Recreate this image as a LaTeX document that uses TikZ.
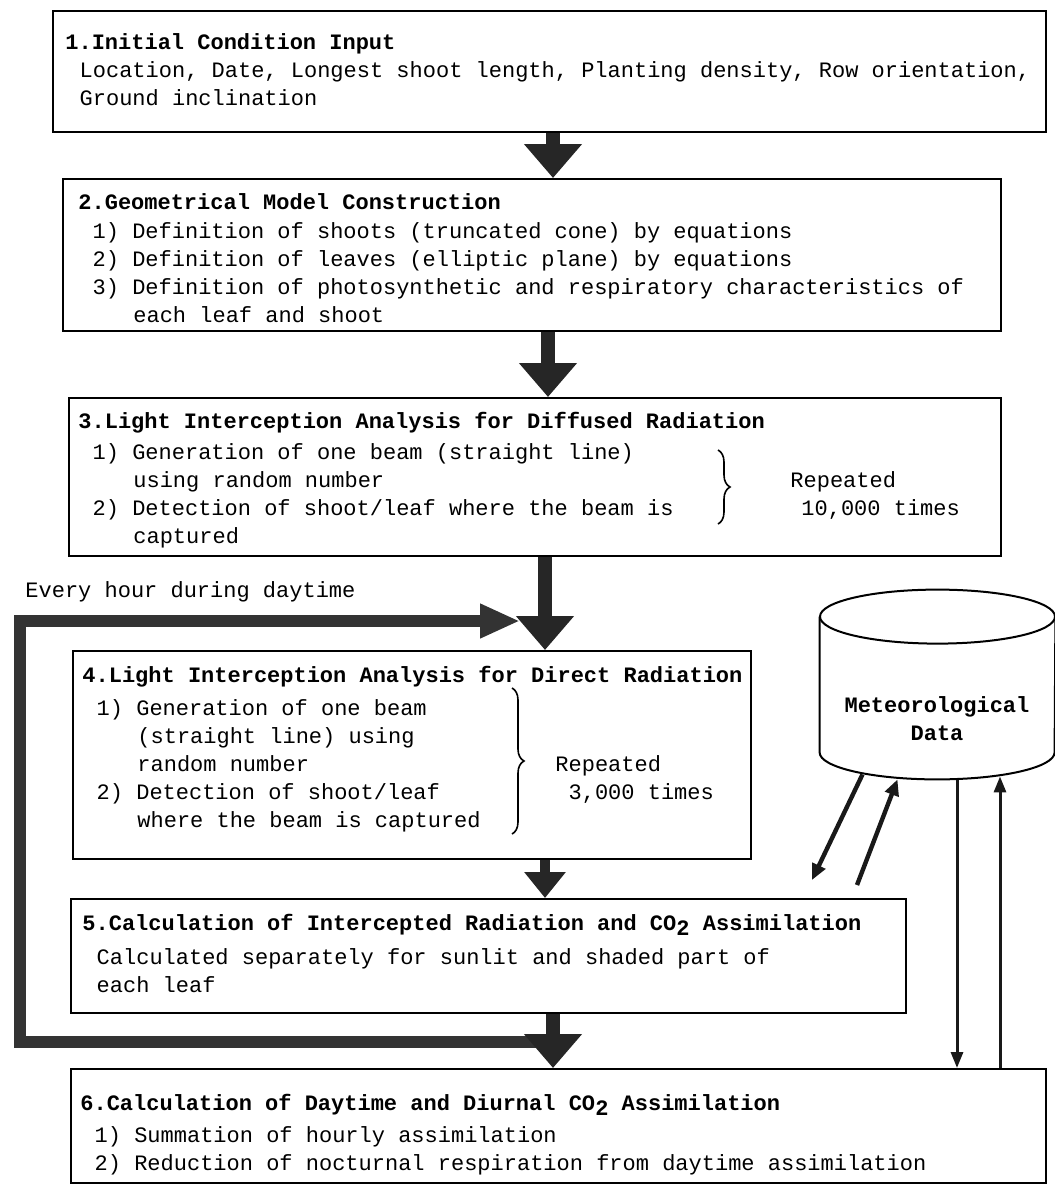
\documentclass[tikz,border=0pt]{standalone}
\usepackage{fontspec}
\setmainfont{Liberation Mono}
\setmonofont{Liberation Mono}
\usepackage{tikz}
\usetikzlibrary{arrows.meta,calc,positioning,shapes.geometric,decorations.pathreplacing}

\newcommand{\ti}{\hspace*{0.65em}}
\newcommand{\hang}{\hspace*{2.5em}}
\newcommand{\subtwo}{\raisebox{-0.45ex}{2}}

\tikzset{
  stagebox/.style={draw, line width=1pt, inner sep=0pt, anchor=north west},
  stagetext/.style={anchor=north west, inner sep=0pt, align=left},
  bigflow/.style={draw=black!85, line width=7pt, -{Triangle[width=28pt,length=17pt]}},
  smallflow/.style={draw=black!85, line width=5pt, -{Triangle[width=20pt,length=13pt]}},
  loopline/.style={draw=black!80, line width=6pt, -{Triangle[width=16pt,length=20pt]}},
  dataflow/.style={draw=black!90, line width=2.2pt, -{Triangle[width=7pt,length=8pt]}},
  dataline/.style={draw=black!90, line width=1.5pt, -{Triangle[width=6pt,length=8pt]}},
  dbline/.style={draw, line width=1pt},
  repbrace/.style={decorate, decoration={brace, amplitude=6pt}, line width=0.8pt}
}

\begin{document}
\begin{tikzpicture}[x=0.5pt, y=-0.5pt, font=\fontsize{11}{14}\selectfont]
  \useasboundingbox (0,0) rectangle (1055,1185);

  % stage boxes
  \node[stagebox, minimum width=496.5pt, minimum height=60.5pt] (b1) at (52,10) {};
  \node[stagebox, minimum width=469pt, minimum height=76pt] (b2) at (62,178) {};
  \node[stagebox, minimum width=466pt, minimum height=79pt] (b3) at (68,397) {};
  \node[stagebox, minimum width=339pt, minimum height=104pt] (b4) at (72,650) {};
  \node[stagebox, minimum width=417.5pt, minimum height=57pt] (b5) at (70,898) {};
  \node[stagebox, minimum width=487.5pt, minimum height=57pt] (b6) at (70,1068) {};

  % stage texts
  \node[stagetext] (t1) at ($(b1.north west)+(13,23)$) {\textbf{1.Initial Condition Input}\\
    \ti Location, Date, Longest shoot length, Planting density, Row orientation,\\
    \ti Ground inclination};
  \node[stagetext] (t2) at ($(b2.north west)+(16,15)$) {\textbf{2.Geometrical Model Construction}\\[0.5pt]
    \ti 1) Definition of shoots (truncated cone) by equations\\
    \ti 2) Definition of leaves (elliptic plane) by equations\\
    \ti 3) Definition of photosynthetic and respiratory characteristics of\\
    \hang each leaf and shoot};
  \node[stagetext] (t3) at ($(b3.north west)+(10,15)$) {\textbf{3.Light Interception Analysis for Diffused Radiation}\\[1.5pt]
    \ti 1) Generation of one beam (straight line)\\
    \hang using random number\\
    \ti 2) Detection of shoot/leaf where the beam is\\
    \hang captured};
  \node[stagetext] (t4) at ($(b4.north west)+(10,16)$) {\textbf{4.Light Interception Analysis for Direct Radiation}\\[2.5pt]
    \ti 1) Generation of one beam\\
    \hang (straight line) using\\
    \hang random number\\
    \ti 2) Detection of shoot/leaf\\
    \hang where the beam is captured};
  \node[stagetext] (t5) at ($(b5.north west)+(12,16)$) {\textbf{5.Calculation of Intercepted Radiation and CO\subtwo{} Assimilation}\\[3pt]
    \ti Calculated separately for sunlit and shaded part of\\
    \ti each leaf};
  \node[stagetext] (t6) at ($(b6.north west)+(10,26)$) {\textbf{6.Calculation of Daytime and Diurnal CO\subtwo{} Assimilation}\\[2pt]
    \ti 1) Summation of hourly assimilation\\
    \ti 2) Reduction of nocturnal respiration from daytime assimilation};

  % repetition braces
  \draw[repbrace] (718,450) -- (718,524);
  \node[anchor=west, align=left, inner sep=0pt] (rep3) at (790,495) {Repeated\\\hspace*{0.5em}10,000 times};
  \draw[repbrace] (512,688) -- (512,834);
  \node[anchor=west, align=left, inner sep=0pt] (rep4) at (555,779) {Repeated\\\hspace*{0.6em}3,000 times};

  % hourly loop
  \node[anchor=west, inner sep=0pt] (hourly) at (25,592) {Every hour during daytime};
  \coordinate (ax1) at (553,0);
  \coordinate (ax2) at (548,0);
  \coordinate (ax3) at (545,0);
  \coordinate (ax5) at (553,0);
  \coordinate (loopstart) at (553,1042);
  \coordinate (loopcorner) at (20,621);
  \coordinate (loopend) at (520,621);
  \draw[loopline, line join=miter] (loopstart) -| (loopcorner) -- (loopend);

  % main flow
  \draw[bigflow] (b1.south -| ax1) -- (b2.north -| ax1);
  \draw[bigflow] (b2.south -| ax2) -- (b3.north -| ax2);
  \draw[bigflow] (b3.south -| ax3) -- (b4.north -| ax3);
  \draw[smallflow] (b4.south -| ax3) -- (b5.north -| ax3);
  \draw[bigflow] (b5.south -| ax5) -- (b6.north -| ax5);

  % weather database
  \node[minimum width=117.5pt, minimum height=67.5pt, inner sep=0pt] (db) at (937.5,684.5) {};
  \draw[dbline] (db.north west) -- (db.south west)
    arc[start angle=180, end angle=360, x radius=58.75pt, y radius=13.5pt] -- (db.north east);
  \draw[dbline] (db.north) ellipse[x radius=58.75pt, y radius=13.5pt];
  \node[align=center, font=\fontsize{11}{14}\selectfont\bfseries] (dblabel) at (937,719) {Meteorological\\Data};

  \coordinate (cx) at (957,0);
  \coordinate (dx) at (1000,0);
  \draw[dataflow] ($(db.south)+(-75,22)$) -- ($(b5.north east)+(-95,-18)$);
  \draw[dataflow] ($(b5.north east)+(-50,-13)$) -- ($(db.south)+(-40,27)$);
  \draw[dataline] ($(db.south)+(19.5,28)$) -- (b6.north -| cx);
  \draw[dataline] (b6.north -| dx) -- ($(db.south)+(62.5,24)$);
\end{tikzpicture}
\end{document}
